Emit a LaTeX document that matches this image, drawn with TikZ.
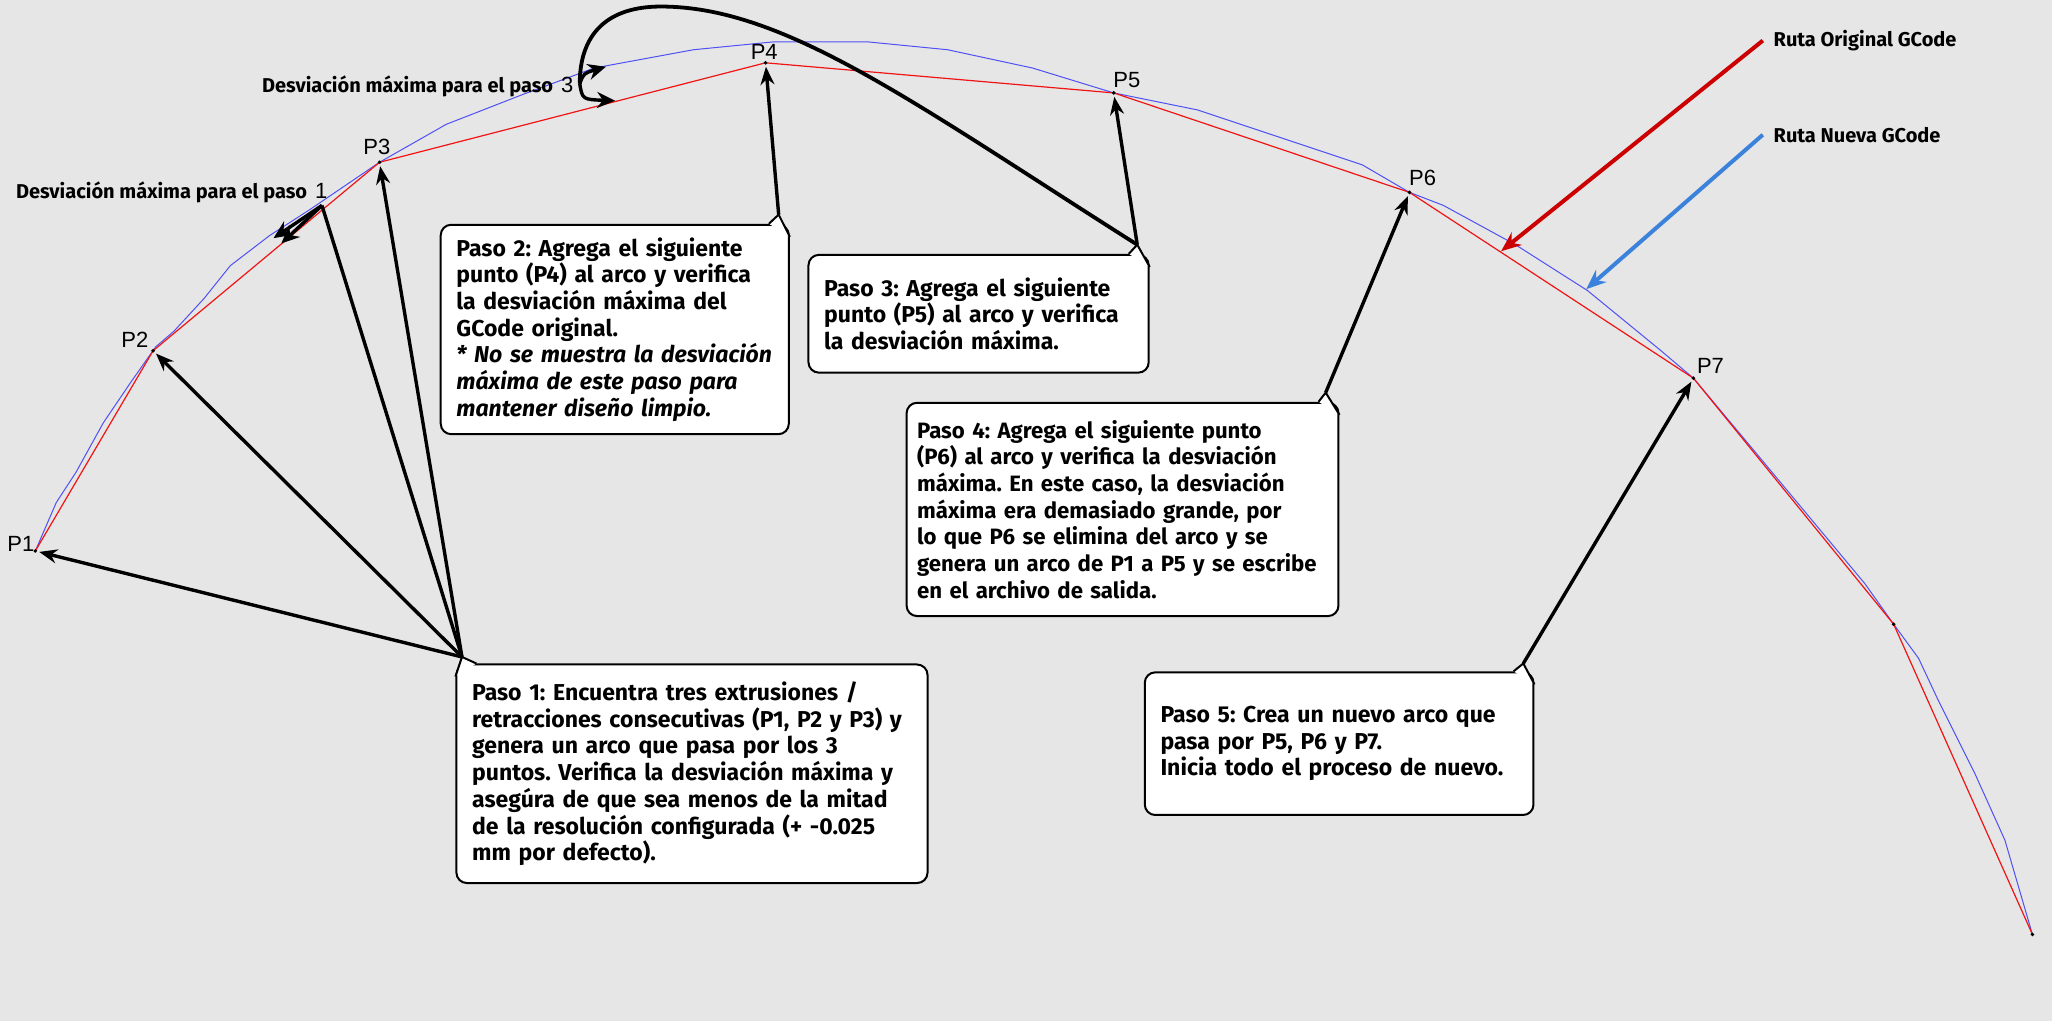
\documentclass[tikz,border=0pt]{standalone}
\usepackage{fontspec}
\setmainfont{Fira Sans}
\newfontfamily\arialfont{Liberation Sans}
\usetikzlibrary{arrows.meta}
\newdimen\pxu \pxu=0.6543pt
\frenchspacing
\definecolor{bggray}{RGB}{230,230,230}
\definecolor{origred}{RGB}{204,0,0}
\definecolor{newblue}{RGB}{58,130,220}
\definecolor{pathred}{RGB}{240,20,20}
\definecolor{pathblue}{RGB}{80,80,245}
\tikzset{
  stepbox/.style={draw=black, line width=1pt, fill=white, rounded corners=8\pxu,
    anchor=north west, align=left, inner xsep=12\pxu,
    font=\bfseries\fontsize{11.5}{13.35}\selectfont},
  tailline/.style={draw=black, line width=1pt, fill=white},
  pointer/.style={line width=1.7pt, -{Stealth[length=9pt,width=7pt]}, shorten >=2pt},
  devarrow/.style={line width=1.7pt, -{Stealth[length=9pt,width=8pt]}},
  loopline/.style={line width=1.9pt},
  legarrow/.style={line width=2pt, -{Stealth[length=10pt,width=8pt]}},
  dot/.style={circle, fill=black, inner sep=0pt, minimum size=3\pxu},
  ptlabel/.style={font=\arialfont\fontsize{11}{11}\selectfont, inner sep=1pt},
  devlabel/.style={font=\bfseries\fontsize{10}{10}\selectfont, inner sep=0pt, anchor=west},
  leglabel/.style={font=\bfseries\fontsize{10}{10}\selectfont, inner xsep=8\pxu, inner ysep=0pt, anchor=west},
}
\begin{document}
\begin{tikzpicture}[x=\pxu, y=-\pxu]
% Background
\fill[bggray] (0,0) rectangle (1568,780);
\useasboundingbox (0,0) rectangle (1568,780);
% Points of the original path
\foreach \n/\x/\y in {1/27/421,2/117/268,3/290/124,4/585/48,5/851/71,6/1077/147,7/1294/289,8/1447/477,9/1553/714}
    \coordinate (p\n) at (\x,\y);
% New GCode path
\draw[pathblue, line width=0.5pt] (p1) -- (43,384) -- (58,361) -- (79,323) -- (100,292) -- (119,265)
    -- (133,253) -- (156,228) -- (176,203) -- (206,180) -- (237,160) -- (p3) -- (341,95) -- (400,72)
    -- (454,52) -- (530,38) -- (591,32) -- (663,32) -- (724,38) -- (789,52) -- (p5) -- (915,84)
    -- (993,110) -- (1041,126) -- (p6) -- (1103,157) -- (1158,187) -- (1213,222) -- (1268,267)
    -- (p7) -- (1335,338) -- (1385,398) -- (1425,446) -- (p8) -- (1466,503) -- (1481,535)
    -- (1509,591) -- (1532,642) -- (p9);
% Original GCode path
\draw[pathred, line width=0.6pt] (p1) -- (p2) -- (p3) -- (p4) -- (p5) -- (p6) -- (p7) -- (p8) -- (p9);
\foreach \n in {1,...,9}
    \node[dot] (d\n) at (p\n) {};
\foreach \n/\x/\y in {1/16/416,2/103/260,3/288/112,4/584/40,5/861/61,6/1087/136,7/1307/280}
    \node[ptlabel] (lp\n) at (\x,\y) {P\n};
% Deviation labels
\node[devlabel] (devlabel1) at (12,147) {Desviación máxima para el paso\hspace{4pt}{\arialfont\mdseries\fontsize{11}{11}\selectfont 1}};
\node[devlabel] (devlabel3) at (200,66) {Desviación máxima para el paso\hspace{4pt}{\arialfont\mdseries\fontsize{11}{11}\selectfont 3}};
% Legend
\node[leglabel] (legorig) at (1347,31) {Ruta Original GCode};
\node[leglabel] (legnew) at (1347,103) {Ruta Nueva GCode};
\coordinate (origtip) at (1147,192);
\coordinate (newtip) at (1212,221);
\draw[legarrow, origred] (legorig.west) -- (origtip);
\draw[legarrow, newblue] (legnew.west) -- (newtip);
% Step boxes
\node[stepbox, minimum width=360\pxu, minimum height=167\pxu, text width=336\pxu] (paso1) at (348,507)
    {Paso 1: Encuentra tres extrusiones /\\retracciones consecutivas (P1, P2 y P3) y\\genera un arco que pasa por los 3\\puntos. Verifica la desviación máxima y\\asegúra de que sea menos de la mitad\\de la resolución configurada (+ -0.025\\mm por defecto).};
\node[stepbox, minimum width=266\pxu, minimum height=160\pxu, text width=242\pxu] (paso2) at (336,171)
    {Paso 2: Agrega el siguiente\\punto (P4) al arco y verifica\\la desviación máxima del\\GCode original.\\\itshape * No se muestra la desviación\\\itshape máxima de este paso para\\\itshape mantener diseño limpio.};
\node[stepbox, minimum width=260\pxu, minimum height=90\pxu, text width=236\pxu] (paso3) at (617,194)
    {Paso 3: Agrega el siguiente\\punto (P5) al arco y verifica\\la desviación máxima.};
\node[stepbox, font=\bfseries\fontsize{11.1}{13.35}\selectfont, inner xsep=8\pxu, minimum width=330\pxu, minimum height=163\pxu, text width=314\pxu] (paso4) at (692,307)
    {Paso 4: Agrega el siguiente punto\\(P6) al arco y verifica la desviación\\máxima. En este caso, la desviación\\máxima era demasiado grande, por\\lo que P6 se elimina del arco y se\\genera un arco de P1 a P5 y se escribe\\en el archivo de salida.};
\node[stepbox, minimum width=297\pxu, minimum height=109\pxu, text width=273\pxu] (paso5) at (874,513)
    {Paso 5: Crea un nuevo arco que\\pasa por P5, P6 y P7.\\Inicia todo el proceso de nuevo.};
% Tails
\coordinate (t1) at (353,502);
\coordinate (t2) at (595,164);
\coordinate (t3) at (869,187);
\coordinate (t4) at (1013,300);
\coordinate (t5) at (1164,507);
\filldraw[tailline] ([xshift=16\pxu]paso1.north west) -- (t1) -- ([yshift=-10\pxu]paso1.north west);
\foreach \b/\t in {paso2/t2,paso3/t3,paso4/t4,paso5/t5}
    \filldraw[tailline] ([xshift=-16\pxu]\b.north east) -- (\t) -- ([yshift=-10\pxu]\b.north east);
% Deviation markers
\coordinate (dev1) at (246,157);
\coordinate (dev1a) at (209,182);
\coordinate (dev1b) at (215,186);
\coordinate (dev3) at (443,64);
\coordinate (dev3a) at (463,51);
\coordinate (dev3b) at (470,77);
\draw[devarrow] (dev1) -- (dev1a);
\draw[devarrow] (dev1) -- (dev1b);
\draw[devarrow] (dev3) .. controls (446,56) .. (dev3a);
\draw[devarrow] (dev3) .. controls (445,76) .. (dev3b);
% Pointers from the boxes
\draw[pointer] (t1) -- (p1);
\draw[pointer] (t1) -- (p2);
\draw[pointer] (t1) -- (p3);
\draw[line width=1.7pt] (t1) -- (dev1);
\draw[pointer] (t2) -- (p4);
\draw[pointer] (t3) -- (p5);
\draw[loopline] (t3) .. controls (700,80) and (600,5) .. (505,5) .. controls (465,5) and (443,25) .. (dev3);
\draw[pointer] (t4) -- (p6);
\draw[pointer] (t5) -- (p7);
\end{tikzpicture}
\end{document}
